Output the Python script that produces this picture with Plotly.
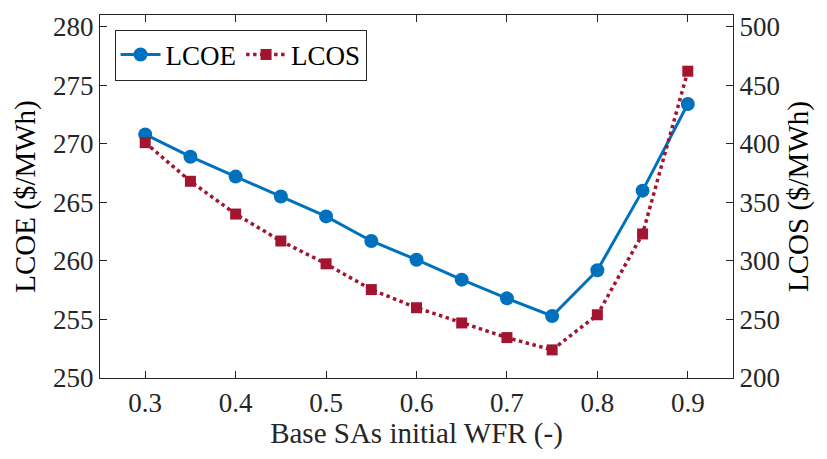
import plotly.graph_objects as go

wfr = [0.3, 0.35, 0.4, 0.45, 0.5, 0.55, 0.6, 0.65, 0.7, 0.75, 0.8, 0.85, 0.9]
lcoe = [270.8, 268.9, 267.2, 265.5, 263.8, 261.7, 260.1, 258.4, 256.8, 255.3, 259.2, 266.0, 273.4]
lcos = [401, 368, 340, 317, 297.5, 275.5, 260, 247, 234.5, 224, 254, 323, 462]

x_ticks = [0.3, 0.4, 0.5, 0.6, 0.7, 0.8, 0.9]
y1_ticks = [250, 255, 260, 265, 270, 275, 280]
y2_ticks = [200, 250, 300, 350, 400, 450, 500]

blue = "#0072BD"
red = "#A2142F"
font = "Liberation Serif, Times New Roman, Tinos, DejaVu Serif, serif"

fig = go.Figure()
fig.add_trace(go.Scatter(
    x=wfr, y=lcoe, name="LCOE", mode="lines+markers",
    line=dict(color=blue, width=3),
    marker=dict(symbol="circle", size=14, color=blue),
    yaxis="y",
))
fig.add_trace(go.Scatter(
    x=wfr, y=lcos, name="LCOS", mode="lines+markers",
    line=dict(color=red, width=3.5, dash="dot"),
    marker=dict(symbol="square", size=11, color=red),
    yaxis="y2",
))

axis_common = dict(
    showgrid=False, zeroline=False, showline=True, linecolor="#262626",
    linewidth=1.2, ticks="inside", ticklen=7, tickcolor="#262626",
    tickfont=dict(family=font, size=27, color="#262626"),
)

fig.update_layout(
    width=827, height=459,
    margin=dict(l=100, r=94, t=12, b=81),
    paper_bgcolor="white", plot_bgcolor="white",
    font=dict(family=font, color="#262626"),
    xaxis=dict(
        range=[0.25, 0.95], tickvals=x_ticks, ticktext=[str(v) for v in x_ticks],
        mirror="ticks",
        title=dict(text="Base SAs initial WFR (-)", font=dict(family=font, size=29, color="#262626"), standoff=6),
        **axis_common,
    ),
    yaxis=dict(
        range=[250, 281], tickvals=y1_ticks,
        title=dict(text="LCOE ($/MWh)", font=dict(family=font, size=29, color="#000000"), standoff=8),
        **axis_common,
    ),
    yaxis2=dict(
        range=[200, 510], tickvals=y2_ticks, overlaying="y", side="right",
        title=dict(text="LCOS ($/MWh)", font=dict(family=font, size=29, color="#000000"), standoff=8),
        **axis_common,
    ),
    legend=dict(
        orientation="h", x=0.023, y=0.96, xanchor="left", yanchor="top",
        bgcolor="white", bordercolor="#262626", borderwidth=1,
        font=dict(family=font, size=27, color="#000000"),
        itemwidth=40, tracegroupgap=0,
    ),
    showlegend=True,
)

fig.write_html("out.html")
